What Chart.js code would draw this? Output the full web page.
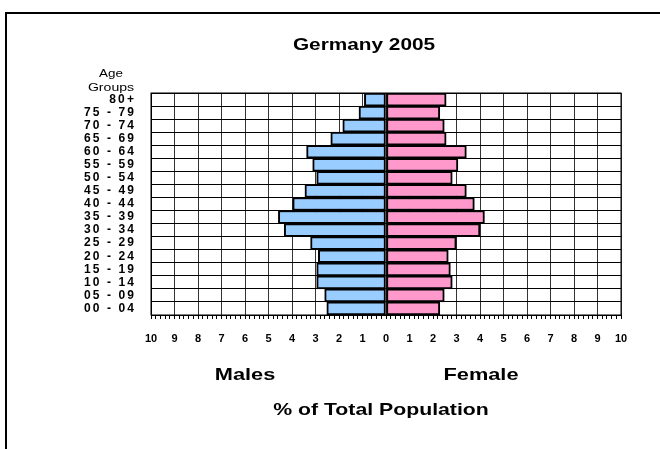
<!DOCTYPE html>
<html>
<head>
<meta charset="utf-8">
<title>Germany 2005</title>
<script src="https://cdn.jsdelivr.net/npm/chart.js@4.4.1/dist/chart.umd.min.js"></script>
<style>
  html, body { margin:0; padding:0; background:#fff; overflow:hidden; }
  #wrap { position:relative; width:660px; height:449px; }
</style>
</head>
<body>
<div id="wrap"><canvas id="pyramid" width="660" height="449"></canvas></div>
<script>
// age groups, youngest first (drawn bottom to top)
const ageGroups = ['00 - 04','05 - 09','10 - 14','15 - 19','20 - 24','25 - 29','30 - 34','35 - 39',
                   '40 - 44','45 - 49','50 - 54','55 - 59','60 - 64','65 - 69','70 - 74','75 - 79','80+'];
// % of total population
const males   = [2.52, 2.61, 2.95, 2.95, 2.88, 3.21, 4.33, 4.58, 3.97, 3.45, 2.95, 3.12, 3.38, 2.35, 1.84, 1.15, 0.92];
const females = [2.29, 2.48, 2.82, 2.74, 2.65, 2.99, 4.00, 4.19, 3.76, 3.42, 2.82, 3.06, 3.42, 2.56, 2.48, 2.29, 2.56];
const xMin = -10, xMax = 10, minorStep = 0.2;

const isWhole = v => Math.abs(v - Math.round(v)) < 1e-6;

// stretched text helper (reference text is drawn wide)
function wideText(c, text, x, y, font, sx){
  c.save();
  c.font = font;
  c.textAlign = 'center';
  c.textBaseline = 'middle';
  c.fillStyle = '#000';
  c.translate(x, y);
  c.scale(sx, 1);
  c.fillText(text, 0, 0);
  c.restore();
}

const textPlugin = {
  id: 'pyramidText',
  beforeDraw(chart){
    const c = chart.ctx;
    c.letterSpacing = '0px';
    // outer frame, cut off by the window on the right and bottom
    c.save();
    c.strokeStyle = '#000'; c.lineWidth = 2;
    c.strokeRect(6, 13, 720, 520);
    c.restore();
  },
  afterDatasetsDraw(chart){
    // y tick labels (z:1) are drawn after this, spaced out like the original
    chart.ctx.letterSpacing = '2.1px';
  },
  afterDraw(chart){
    const c = chart.ctx;
    c.letterSpacing = '0px';
    const a = chart.chartArea;
    c.save();
    c.strokeStyle = '#000'; c.lineWidth = 1;
    c.strokeRect(a.left, a.top, a.right - a.left, a.bottom - a.top);
    c.restore();
    wideText(c, 'Germany 2005', 364, 46, 'bold 16px "Liberation Sans", Arial, sans-serif', 1.3);
    wideText(c, 'Age', 111, 74, '11px "Liberation Sans", Arial, sans-serif', 1.22);
    wideText(c, 'Groups', 111, 88, '11px "Liberation Sans", Arial, sans-serif', 1.28);
    wideText(c, 'Males', 245, 375, 'bold 17px "Liberation Sans", Arial, sans-serif', 1.28);
    wideText(c, 'Female', 481, 375, 'bold 17px "Liberation Sans", Arial, sans-serif', 1.28);
    wideText(c, '% of Total Population', 381, 410, 'bold 17px "Liberation Sans", Arial, sans-serif', 1.25);
  }
};

const ctx = document.getElementById('pyramid').getContext('2d');
new Chart(ctx, {
  type: 'bar',
  data: {
    labels: ageGroups,
    datasets: [
      { label:'Males', data: males.map(v => -v), backgroundColor:'#99CCFF', borderColor:'#000', borderWidth:2, borderSkipped:false },
      { label:'Female', data: females, backgroundColor:'#FF99CC', borderColor:'#000', borderWidth:2, borderSkipped:false }
    ]
  },
  options: {
    indexAxis: 'y',
    responsive: false,
    devicePixelRatio: 1,
    animation: false,
    barPercentage: 1,
    categoryPercentage: 1,
    layout: { padding: { top: 93, right: 39, left: 0, bottom: 0 } },
    plugins: { legend:{display:false}, tooltip:{enabled:false}, title:{display:false} },
    scales: {
      x: {
        type: 'linear', stacked: true, min: xMin, max: xMax,
        afterFit: s => { s.height = 134; },
        border: { display: true, color:'#000', width: 1 },
        grid: {
          color: c => isWhole(c.tick.value) ? '#333' : 'rgba(0,0,0,0)',
          tickColor: '#000', tickLength: 4, lineWidth: 1
        },
        ticks: {
          stepSize: minorStep, autoSkip: false, maxRotation: 0, padding: 13,
          color: '#000',
          font: { family:'"Liberation Sans", Arial, sans-serif', size: 11, weight: 'bold' },
          callback: v => isWhole(v) ? String(Math.abs(Math.round(v))) : ''
        }
      },
      y: {
        stacked: true, reverse: true,
        afterFit: s => { s.width = 151; },
        border: { display: true, color:'#000', width: 1 },
        grid: { color:'#000', lineWidth: 1, drawTicks: false, offset: true },
        ticks: {
          z: 1, padding: 15, color:'#000', autoSkip: false,
          font: { family:'"Liberation Sans", Arial, sans-serif', size: 12, weight: 'bold', lineHeight: 1 }
        }
      }
    }
  },
  plugins: [textPlugin]
});
</script>
</body>
</html>
